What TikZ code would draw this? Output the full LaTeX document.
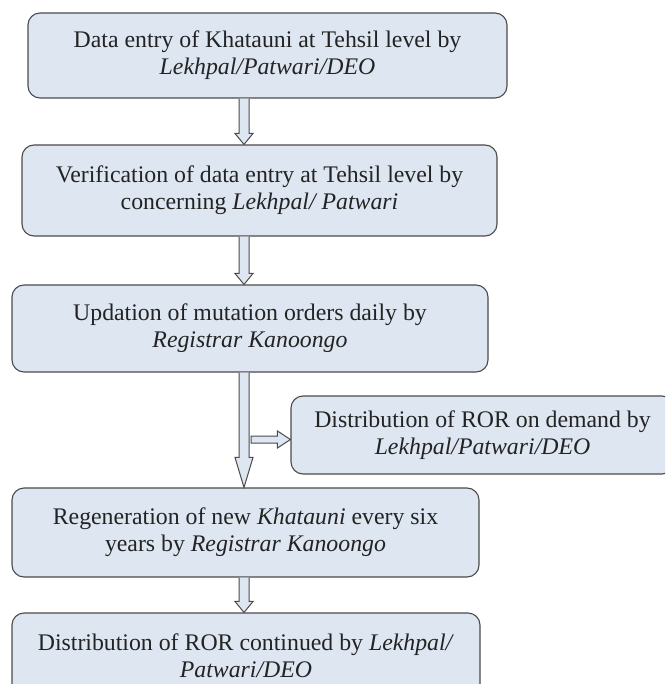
\documentclass[tikz,border=0pt]{standalone}
\usepackage{fontspec}
\setmainfont{Liberation Serif}
\usetikzlibrary{calc}
\definecolor{boxfill}{RGB}{221,230,241}
\definecolor{boxline}{RGB}{75,75,75}
\definecolor{txt}{RGB}{35,35,35}
\tikzset{
  flowbox/.style={draw=boxline, fill=boxfill, line width=1.1pt, rounded corners=12pt,
    align=center, text=txt, inner sep=0pt,
    font=\fontsize{23.8}{27}\selectfont},
  blockarr/.style={draw=boxline, fill=boxfill, line width=1pt, line join=miter}
}
\newcommand\downblock[3]{%
  \draw[blockarr] let \p1=(#1), \p2=(#2) in
    (\x1-5pt,\y1) -- (\x1-5pt,\y2+#3) -- (\x1-9pt,\y2+#3) -- (\x1,\y2) --
    (\x1+9pt,\y2+#3) -- (\x1+5pt,\y2+#3) -- (\x1+5pt,\y1);}
\newcommand\rightblock[3]{%
  \draw[blockarr] let \p1=(#1), \p2=(#2) in
    (\x1,\y1+3.5pt) -- (\x2-#3,\y1+3.5pt) -- (\x2-#3,\y1+8.5pt) -- (\x2,\y1) --
    (\x2-#3,\y1-8.5pt) -- (\x2-#3,\y1-3.5pt) -- (\x1,\y1-3.5pt) -- cycle;}
\begin{document}
\begin{tikzpicture}[x=1pt,y=-1pt]
\useasboundingbox (0,0) rectangle (665,684);
\clip (0,0) rectangle (665,684);
\node[flowbox, minimum width=479pt, minimum height=85pt] (b1) at (267.5,55.5)
  {Data entry of Khatauni at Tehsil level by\\\textit{Lekhpal/Patwari/DEO}};
\node[flowbox, minimum width=475pt, minimum height=91pt] (b2) at (259.5,190.5)
  {Verification of data entry at Tehsil level by\\concerning \textit{Lekhpal/ Patwari}};
\node[flowbox, minimum width=476pt, minimum height=87pt] (b3) at (250,328.5)
  {Updation of mutation orders daily by\\\textit{Registrar Kanoongo}};
\node[flowbox, minimum width=383pt, minimum height=78pt] (side) at (482.5,435)
  {Distribution of ROR on demand by\\\textit{Lekhpal/Patwari/DEO}};
\node[flowbox, minimum width=467pt, minimum height=89pt] (b4) at (245.5,532.5)
  {Regeneration of new \textit{Khatauni} every six\\years by \textit{Registrar Kanoongo}};
\node[flowbox, minimum width=468pt, minimum height=86pt] (b5) at (246,656)
  {Distribution of ROR continued by \textit{Lekhpal/}\\\textit{Patwari/DEO}};
\coordinate (ax) at (244,0);
\coordinate (sa) at (251,439.5);
\downblock{b1.south -| ax}{b2.north -| ax}{11pt}
\downblock{b2.south -| ax}{b3.north -| ax}{11pt}
\downblock{b3.south -| ax}{b4.north -| ax}{30pt}
\rightblock{sa}{side.west |- sa}{13pt}
\downblock{b4.south -| ax}{b5.north -| ax}{11pt}
\end{tikzpicture}
\end{document}
